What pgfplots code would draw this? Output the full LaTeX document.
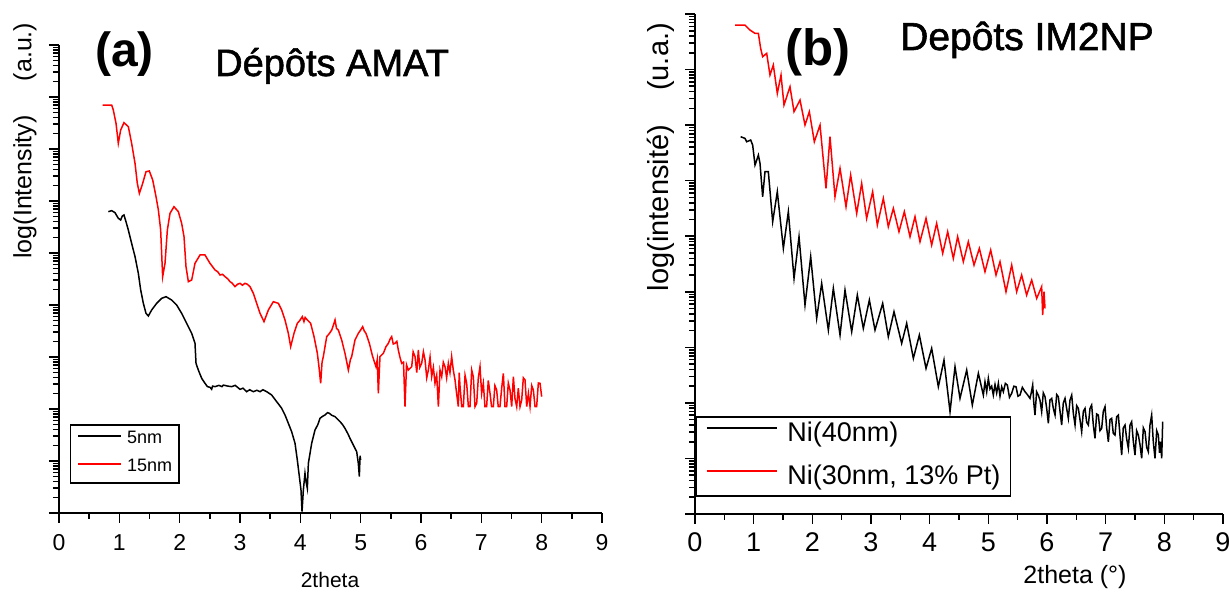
\documentclass[border=0pt]{standalone}
\usepackage{fontspec}
\setmainfont{Liberation Sans}
\newfontfamily\heavy[FakeBold=1.5]{Liberation Sans}
\usepackage{pgfplots}
\usepackage{pgfplotstable}
\pgfplotsset{compat=1.18}

% x = 2theta, ly = log10(intensity)
\pgfplotstableread{
x ly
0.818 5.795
0.873 5.814
0.928 5.776
0.983 5.667
1.022 5.635
1.050 5.712
1.077 5.731
1.110 5.603
1.149 5.443
1.204 5.186
1.260 4.930
1.315 4.609
1.354 4.289
1.398 4.032
1.442 3.840
1.481 3.789
1.536 3.904
1.619 4.032
1.702 4.128
1.774 4.160
1.867 4.096
1.950 4.000
2.033 3.840
2.116 3.648
2.199 3.455
2.254 3.263
2.271 2.878
2.309 2.750
2.365 2.590
2.420 2.494
2.460 2.430
2.503 2.417
2.530 2.380
2.545 2.440
2.586 2.430
2.650 2.455
2.700 2.430
2.724 2.460
2.800 2.440
2.862 2.430
2.920 2.455
3.000 2.378
3.050 2.400
3.111 2.333
3.160 2.370
3.221 2.333
3.280 2.360
3.332 2.333
3.380 2.370
3.442 2.333
3.525 2.269
3.608 2.141
3.691 2.013
3.746 1.885
3.801 1.725
3.856 1.564
3.912 1.340
3.950 1.019
3.984 0.699
4.011 0.442
4.028 0.026
4.050 0.442
4.077 0.763
4.095 0.600
4.116 0.474
4.133 0.955
4.188 1.340
4.243 1.596
4.290 1.700
4.326 1.821
4.370 1.860
4.409 1.885
4.450 1.930
4.481 1.917
4.520 1.880
4.575 1.853
4.620 1.800
4.658 1.757
4.700 1.700
4.740 1.628
4.790 1.520
4.823 1.436
4.878 1.308
4.934 1.179
4.961 0.955
4.978 0.699
4.990 1.100
5.000 1.019
}\ablack

\pgfplotstableread{
x ly
0.724 7.846
0.873 7.846
0.900 7.750
0.945 7.494
0.983 7.109
1.022 7.365
1.077 7.506
1.149 7.430
1.204 7.109
1.260 6.724
1.298 6.340
1.332 6.147
1.387 6.340
1.442 6.564
1.497 6.577
1.553 6.404
1.608 6.083
1.647 5.827
1.685 5.443
1.718 4.545
1.757 4.801
1.796 5.443
1.840 5.763
1.906 5.891
1.978 5.795
2.033 5.571
2.072 5.314
2.105 4.737
2.144 4.449
2.199 4.481
2.254 4.801
2.337 4.962
2.420 4.962
2.503 4.801
2.586 4.673
2.630 4.640
2.669 4.577
2.710 4.590
2.752 4.545
2.800 4.500
2.834 4.449
2.870 4.420
2.917 4.353
2.960 4.400
3.000 4.417
3.040 4.380
3.083 4.417
3.120 4.400
3.166 4.353
3.221 4.225
3.276 4.032
3.332 3.840
3.398 3.680
3.470 3.904
3.553 4.064
3.636 4.032
3.691 3.904
3.746 3.712
3.801 3.455
3.840 3.199
3.895 3.455
3.950 3.648
3.990 3.700
4.033 3.776
4.060 3.680
4.080 3.760
4.116 3.712
4.171 3.648
4.227 3.391
4.282 3.071
4.310 2.800
4.337 2.494
4.360 2.900
4.381 3.007
4.437 3.391
4.480 3.450
4.520 3.519
4.550 3.620
4.575 3.712
4.600 3.550
4.630 3.519
4.685 3.327
4.740 3.071
4.770 2.900
4.796 2.750
4.830 2.950
4.851 3.007
4.906 3.327
4.961 3.455
5.000 3.520
5.033 3.583
5.060 3.500
5.088 3.455
5.144 3.263
5.199 3.007
5.254 2.814
5.275 2.950
5.293 2.301
5.320 3.007
5.376 3.071
5.420 3.200
5.459 3.263
5.490 3.350
5.514 3.391
5.540 3.250
5.569 3.263
5.600 3.300
5.624 3.135
5.650 3.000
5.680 2.878
5.710 2.900
5.735 2.045
5.760 2.850
5.790 2.750
5.846 2.814
5.870 3.100
5.901 3.007
5.930 2.700
5.956 3.135
5.980 2.800
6.011 2.878
6.040 3.100
6.067 2.943
6.095 2.600
6.122 2.750
6.150 3.000
6.177 2.622
6.205 2.800
6.232 2.494
6.260 2.650
6.288 2.045
6.315 2.750
6.343 2.622
6.370 2.900
6.398 2.814
6.425 2.600
6.453 2.878
6.480 2.700
6.508 3.007
6.535 2.750
6.564 2.558
6.590 2.300
6.619 2.045
6.633 2.700
6.647 2.430
6.675 2.045
6.702 2.045
6.730 2.650
6.757 2.494
6.785 2.045
6.812 2.045
6.840 2.750
6.867 2.622
6.895 2.045
6.923 2.109
6.950 2.600
6.978 2.814
7.005 2.300
7.033 2.494
7.060 2.045
7.088 2.045
7.115 2.550
7.144 2.301
7.170 2.045
7.199 2.045
7.225 2.450
7.254 2.366
7.280 2.045
7.309 2.045
7.337 2.400
7.365 2.686
7.392 2.045
7.420 2.045
7.447 2.500
7.475 2.366
7.503 2.045
7.531 2.622
7.558 2.200
7.586 2.045
7.613 2.400
7.641 2.045
7.669 2.173
7.696 2.600
7.724 2.558
7.752 2.045
7.780 2.300
7.807 2.045
7.835 2.450
7.862 2.366
7.890 2.045
7.917 2.045
7.945 2.500
7.973 2.494
8.000 2.237
}\ared

\pgfplotstableread{
x ly
0.778 6.791
0.852 6.761
0.881 6.701
0.949 6.731
0.983 6.641
1.023 6.281
1.080 6.461
1.108 6.311
1.153 5.711
1.193 6.161
1.250 6.161
1.324 5.261
1.403 5.801
1.506 4.781
1.591 5.441
1.688 4.241
1.773 4.991
1.875 3.761
1.972 4.631
2.074 3.521
2.159 4.151
2.273 3.311
2.358 4.061
2.472 3.221
2.557 4.031
2.671 3.281
2.767 3.941
2.869 3.341
2.972 3.851
3.068 3.311
3.199 3.791
3.295 3.191
3.392 3.641
3.523 3.071
3.608 3.431
3.722 2.801
3.824 3.221
3.938 2.621
4.034 2.981
4.148 2.291
4.244 2.771
4.347 1.841
4.432 2.651
4.517 2.081
4.631 2.591
4.727 1.961
4.830 2.531
4.915 2.141
4.943 2.380
4.972 2.200
5.000 2.441
5.028 2.250
5.057 2.300
5.085 2.141
5.114 2.330
5.142 2.180
5.171 2.351
5.199 2.120
5.228 2.290
5.256 2.201
5.290 2.350
5.324 2.321
5.360 2.100
5.398 2.171
5.435 2.300
5.472 2.291
5.505 2.120
5.540 2.141
5.580 2.280
5.625 2.201
5.665 2.150
5.710 2.081
5.735 2.200
5.756 2.321
5.775 2.000
5.795 1.781
5.823 2.200
5.852 2.141
5.880 2.050
5.909 1.841
5.937 2.180
5.966 2.111
5.995 1.900
6.023 1.631
6.050 2.050
6.080 2.081
6.108 1.900
6.137 1.781
6.165 2.150
6.193 2.111
6.222 1.850
6.250 1.601
6.278 2.000
6.307 2.081
6.335 1.900
6.364 1.721
6.392 2.050
6.421 2.141
6.450 1.800
6.478 1.601
6.506 1.950
6.534 1.901
6.562 1.700
6.591 1.481
6.620 1.850
6.648 1.901
6.676 1.650
6.705 1.601
6.733 1.900
6.761 1.961
6.790 1.600
6.818 1.361
6.846 1.800
6.875 1.781
6.903 1.500
6.932 1.541
6.960 1.850
6.989 1.931
7.017 1.550
7.046 1.301
7.074 1.700
7.102 1.721
7.130 1.450
7.159 1.421
7.187 1.750
7.216 1.781
7.245 1.400
7.273 1.061
7.300 1.550
7.330 1.601
7.358 1.350
7.387 1.181
7.415 1.600
7.443 1.661
7.472 1.300
7.500 1.061
7.528 1.500
7.557 1.421
7.585 1.250
7.614 1.001
7.642 1.550
7.671 1.481
7.699 1.200
7.727 1.121
7.755 1.600
7.784 1.781
7.812 1.300
7.841 1.001
7.870 1.500
7.898 1.421
7.918 1.100
7.937 1.301
7.955 1.001
7.972 1.661
}\bblack

\pgfplotstableread{
x ly
0.682 8.801
0.852 8.801
0.937 8.711
1.023 8.651
1.080 8.651
1.119 8.381
1.153 8.231
1.222 8.291
1.278 7.901
1.335 8.081
1.403 7.571
1.466 7.901
1.517 7.361
1.619 7.691
1.688 7.241
1.790 7.451
1.875 7.001
1.949 7.241
2.034 6.701
2.131 7.001
2.233 5.861
2.301 6.791
2.386 5.711
2.472 6.221
2.574 5.531
2.653 6.101
2.756 5.411
2.841 5.951
2.926 5.321
3.028 5.801
3.108 5.201
3.210 5.681
3.295 5.171
3.381 5.501
3.477 5.081
3.568 5.441
3.665 4.991
3.750 5.351
3.835 4.901
3.938 5.321
4.034 4.841
4.119 5.231
4.222 4.691
4.307 5.081
4.403 4.601
4.477 4.991
4.574 4.541
4.659 4.901
4.756 4.481
4.847 4.781
4.943 4.361
5.040 4.751
5.131 4.301
5.199 4.541
5.301 4.001
5.398 4.481
5.483 4.001
5.568 4.301
5.653 3.941
5.739 4.211
5.824 3.881
5.909 4.091
5.926 3.581
5.949 4.001
5.966 3.701
}\bred

\begin{document}
\begin{tikzpicture}
% ---------------- panel (a)
\begin{axis}[
  ymode=log,
  scale only axis,
  at={(59pt,81pt)}, anchor=south west,
  width=543pt, height=468pt,
  ymin=1, ymax=1e9, xmin=0, xmax=9,
  axis x line=bottom, axis y line=left,
  axis line style={-, line width=2pt},
  xtick={0,1,2,3,4,5,6,7,8,9}, minor x tick num=1,
  ytick={1,10,100,1000,10000,1e5,1e6,1e7,1e8,1e9},
  minor ytick={2,3,4,5,6,7,8,9,20,30,40,50,60,70,80,90,200,300,400,500,600,700,800,900,2000,3000,4000,5000,6000,7000,8000,9000,2e4,3e4,4e4,5e4,6e4,7e4,8e4,9e4,2e5,3e5,4e5,5e5,6e5,7e5,8e5,9e5,2e6,3e6,4e6,5e6,6e6,7e6,8e6,9e6,2e7,3e7,4e7,5e7,6e7,7e7,8e7,9e7,2e8,3e8,4e8,5e8,6e8,7e8,8e8,9e8},
  yticklabels={},
  tick align=outside,
  major tick length=10pt, minor tick length=6pt,
  every tick/.style={line width=1.6pt, black},
  tick label style={font=\fontsize{23}{23}\selectfont},
  xticklabel shift=8pt,
  legend cell align=left,
  legend style={at={(axis cs:0.18,51.3)}, anchor=north west, draw=black,
    line width=1.6pt, fill=white, inner xsep=7pt, inner ysep=7pt,
    row sep=12pt, column sep=5pt, font=\fontsize{18}{18}\selectfont,
    nodes={inner sep=0pt, text height=12pt, text depth=4pt}},
  legend image code/.code={\draw[#1] (0pt,4pt) -- (43pt,4pt);},
  /pgf/number format/assume math mode=true,
]
\addplot[black, line width=1.5pt] table[x=x, y expr=10^\thisrow{ly}] {\ablack};
\addlegendentry{5nm}
\addplot[red, line width=1.5pt] table[x=x, y expr=10^\thisrow{ly}] {\ared};
\addlegendentry{15nm}
\end{axis}
% ---------------- panel (b)
\begin{axis}[
  ymode=log,
  scale only axis,
  at={(695pt,80pt)}, anchor=south west,
  width=528pt, height=500pt,
  ymin=1, ymax=1e9, xmin=0, xmax=9,
  axis x line=bottom, axis y line=left,
  axis line style={-, line width=2pt},
  xtick={0,1,2,3,4,5,6,7,8,9}, minor x tick num=1,
  ytick={1,10,100,1000,10000,1e5,1e6,1e7,1e8,1e9},
  minor ytick={2,3,4,5,6,7,8,9,20,30,40,50,60,70,80,90,200,300,400,500,600,700,800,900,2000,3000,4000,5000,6000,7000,8000,9000,2e4,3e4,4e4,5e4,6e4,7e4,8e4,9e4,2e5,3e5,4e5,5e5,6e5,7e5,8e5,9e5,2e6,3e6,4e6,5e6,6e6,7e6,8e6,9e6,2e7,3e7,4e7,5e7,6e7,7e7,8e7,9e7,2e8,3e8,4e8,5e8,6e8,7e8,8e8,9e8},
  yticklabels={},
  tick align=outside,
  major tick length=10pt, minor tick length=6pt,
  every tick/.style={line width=1.6pt, black},
  tick label style={font=\fontsize{27}{27}\selectfont},
  xticklabel shift=5pt,
  legend cell align=left,
  legend style={at={(axis cs:0,58.1)}, anchor=north west, draw=black,
    line width=1.6pt, fill=white, inner xsep=10pt, inner ysep=5pt,
    row sep=17pt, column sep=10pt, font=\fontsize{27}{27}\selectfont,
    nodes={inner sep=0pt, text height=20pt, text depth=6pt}},
  legend image code/.code={\path (0pt,7pt) -- (15pt,7pt); \draw[#1] (15pt,7pt) -- (70pt,7pt);},
  /pgf/number format/assume math mode=true,
]
\addplot[black, line width=1.5pt] table[x=x, y expr=10^\thisrow{ly}] {\bblack};
\addlegendentry{Ni(40nm)}
\addplot[red, line width=1.5pt] table[x=x, y expr=10^\thisrow{ly}] {\bred};
\addlegendentry{Ni(30nm, 13\% Pt)}
\end{axis}
% small extension of the x axis lines to the left
\draw[line width=2pt] (51pt,81pt) -- (59pt,81pt);
\draw[line width=2pt] (685pt,80pt) -- (695pt,80pt);
% texts
\node[font=\bfseries\fontsize{48}{48}\selectfont, anchor=base west, inner sep=0pt] at (95pt,527pt) {(a)};
\node[font=\heavy\fontsize{38}{38}\selectfont, anchor=base west, inner sep=0pt] at (215pt,518pt) {Dépôts AMAT};
\node[font=\bfseries\fontsize{51}{51}\selectfont, anchor=base west, inner sep=0pt] at (785pt,528pt) {(b)};
\node[font=\heavy\fontsize{39}{39}\selectfont, anchor=base west, inner sep=0pt] at (900pt,544pt) {Depôts IM2NP};
\node[rotate=90, font=\fontsize{25}{25}\selectfont] at (25pt,407pt) {log(Intensity)};
\node[rotate=90, font=\fontsize{25}{25}\selectfont] at (25pt,542pt) {(a.u.)};
\node[rotate=90, font=\fontsize{29}{29}\selectfont] at (661pt,386pt) {log(intensité)};
\node[rotate=90, font=\fontsize{29}{29}\selectfont] at (661pt,537pt) {(u.a.)};
\node[font=\fontsize{21}{21}\selectfont] at (330pt,14pt) {2theta};
\node[font=\fontsize{25}{25}\selectfont] at (1075pt,17pt) {2theta (°)};
\pgfresetboundingbox
\useasboundingbox (0pt,0pt) rectangle (1229pt,594pt);
\end{tikzpicture}
\end{document}
